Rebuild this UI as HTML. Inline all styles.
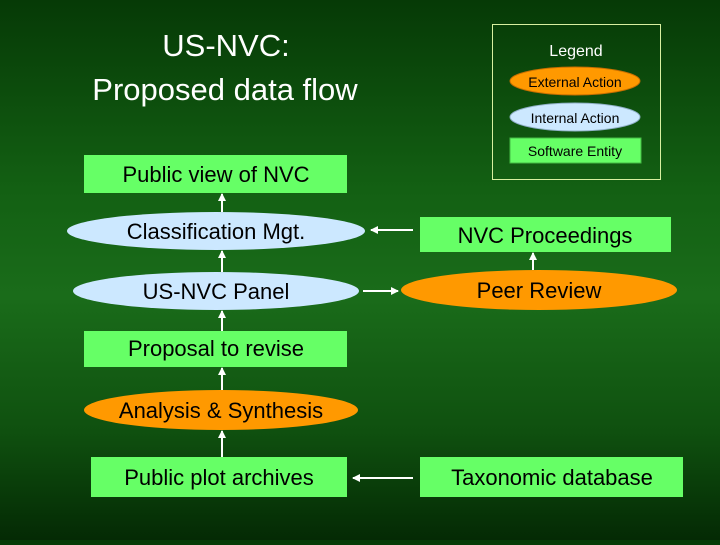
<!DOCTYPE html>
<html><head><style>
body{margin:0;width:720px;height:540px;overflow:hidden;background:linear-gradient(#063a06 0%,#136013 35%,#1a6c1a 55%,#0f500f 80%,#042a04 100%);font-family:"Comic Sans MS","Liberation Sans",sans-serif;}
</style></head><body>
<svg width="720" height="540" xmlns="http://www.w3.org/2000/svg" font-family="Liberation Sans, sans-serif">
<defs><marker id="a" markerWidth="8" markerHeight="8" refX="7" refY="4" orient="auto" markerUnits="userSpaceOnUse"><path d="M0,0 L8,4 L0,8z" fill="#fff"/></marker></defs>
<g fill="#fff" text-anchor="middle">
<text x="226" y="56" font-size="31">US-NVC:</text>
<text x="225" y="100" font-size="31">Proposed data flow</text>
</g>
<rect x="492.5" y="24.5" width="168" height="155" fill="none" stroke="#d8f0a0" stroke-width="1"/>
<text x="576" y="56" font-size="16" fill="#fff" text-anchor="middle">Legend</text>
<ellipse cx="575" cy="81" rx="65" ry="14" fill="#ff9900" stroke="#c86e00"/>
<text x="575" y="87" font-size="14" text-anchor="middle">External Action</text>
<ellipse cx="575" cy="117" rx="65" ry="14" fill="#cce8ff" stroke="#90b0c8"/>
<text x="575" y="123" font-size="14" text-anchor="middle">Internal Action</text>
<rect x="510" y="138" width="131" height="25" fill="#66ff66" stroke="#44bb44"/>
<text x="575" y="156" font-size="14" text-anchor="middle">Software Entity</text>
<g stroke="#fff" stroke-width="2" marker-end="url(#a)">
<line x1="222" y1="212" x2="222" y2="194"/>
<line x1="222" y1="272" x2="222" y2="251"/>
<line x1="222" y1="331" x2="222" y2="311"/>
<line x1="222" y1="390" x2="222" y2="368"/>
<line x1="222" y1="457" x2="222" y2="431"/>
<line x1="413" y1="230" x2="371" y2="230"/>
<line x1="363" y1="291" x2="398" y2="291"/>
<line x1="413" y1="478" x2="353" y2="478"/>
<line x1="533" y1="270" x2="533" y2="253"/>
</g>
<g font-size="22" text-anchor="middle">
<rect x="84" y="155" width="263" height="38" fill="#66ff66"/>
<text x="216" y="182">Public view of NVC</text>
<ellipse cx="216" cy="231" rx="149" ry="19" fill="#cce8ff"/>
<text x="216" y="239">Classification Mgt.</text>
<rect x="420" y="217" width="251" height="35" fill="#66ff66"/>
<text x="545" y="243">NVC Proceedings</text>
<ellipse cx="216" cy="291" rx="143" ry="19" fill="#cce8ff"/>
<text x="216" y="299">US-NVC Panel</text>
<ellipse cx="539" cy="290" rx="138" ry="20" fill="#ff9900"/>
<text x="539" y="298">Peer Review</text>
<rect x="84" y="331" width="263" height="36" fill="#66ff66"/>
<text x="216" y="356">Proposal to revise</text>
<ellipse cx="221" cy="410" rx="137" ry="20" fill="#ff9900"/>
<text x="221" y="418">Analysis &amp; Synthesis</text>
<rect x="91" y="457" width="256" height="40" fill="#66ff66"/>
<text x="219" y="485">Public plot archives</text>
<rect x="420" y="457" width="263" height="40" fill="#66ff66"/>
<text x="552" y="485">Taxonomic database</text>
</g>
</svg>
</body></html>
